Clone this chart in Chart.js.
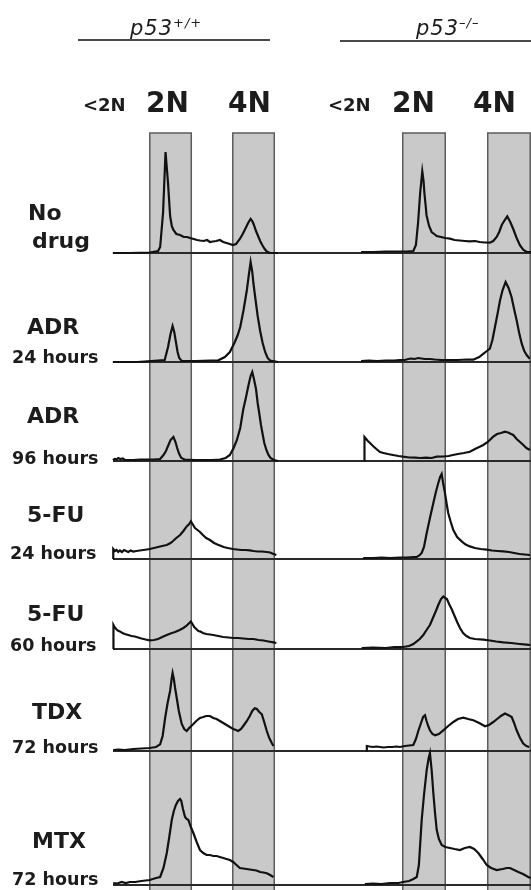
<!DOCTYPE html>
<html lang="en">
<head>
  <meta charset="UTF-8">
  <title>p53 cell cycle profiles</title>
  <script src="https://cdn.jsdelivr.net/npm/chart.js"></script>
  <style>
    body { margin: 0; background: #fff; font-family: "DejaVu Sans", sans-serif; color: #1c1c1c; }
    #wrap { position: relative; width: 531px; height: 890px; overflow: hidden; }
    canvas { position: absolute; left: 0; top: 0; }
    .t { position: absolute; line-height: 1; white-space: nowrap; font-weight: bold; }
    .big { font-size: 22px; }
    .hrs { font-size: 17.5px; }
    .ploidy { font-size: 28px; }
    .sub { font-size: 18px; }
    .head { position: absolute; line-height: 1; white-space: nowrap; font-style: italic; font-size: 21px; letter-spacing: 1px; }
    .head span { font-size: 13px; position: relative; top: -8px; letter-spacing: 1px; }
    .rule { position: absolute; height: 2px; background: #4a4a4a; }
  </style>
</head>
<body>
<div id="wrap">
  <canvas id="wt" width="531" height="890"></canvas>
  <canvas id="ko" width="531" height="890"></canvas>

  <div class="head" style="left:130px; top:18px;">p53<span>+/+</span></div>
  <div class="rule" style="left:78px; top:39px; width:192px;"></div>
  <div class="head" style="left:416px; top:18px;">p53<span>–/–</span></div>
  <div class="rule" style="left:340px; top:40px; width:191px;"></div>

  <div class="t sub" style="left:83px; top:96px;">&lt;2N</div>
  <div class="t ploidy" style="left:146px; top:89px;">2N</div>
  <div class="t ploidy" style="left:228px; top:89px;">4N</div>
  <div class="t sub" style="left:328px; top:96px;">&lt;2N</div>
  <div class="t ploidy" style="left:392px; top:89px;">2N</div>
  <div class="t ploidy" style="left:473px; top:89px;">4N</div>

  <div class="t big" style="left:28px; top:202px;">No</div>
  <div class="t big" style="left:32px; top:230px;">drug</div>
  <div class="t big" style="left:27px; top:316px;">ADR</div>
  <div class="t hrs" style="left:12px; top:349px;">24 hours</div>
  <div class="t big" style="left:27px; top:405px;">ADR</div>
  <div class="t hrs" style="left:12px; top:450px;">96 hours</div>
  <div class="t big" style="left:27px; top:504px;">5-FU</div>
  <div class="t hrs" style="left:10px; top:545px;">24 hours</div>
  <div class="t big" style="left:27px; top:603px;">5-FU</div>
  <div class="t hrs" style="left:10px; top:637px;">60 hours</div>
  <div class="t big" style="left:32px; top:701px;">TDX</div>
  <div class="t hrs" style="left:12px; top:739px;">72 hours</div>
  <div class="t big" style="left:32px; top:830px;">MTX</div>
  <div class="t hrs" style="left:12px; top:871px;">72 hours</div>
</div>
<script>
  // DNA content gates (channel units)
  const gateRanges = [[150, 250], [350, 450]];
  // y-axis maximum (relative cell counts) for each treatment row, top to bottom
  const rowMax = [120, 109, 99, 98, 90, 102, 134];

  // p53+/+ histograms: [DNA content, cell count]
  const noDrugWT = [[61,0],[100,0],[150,0.5],[170,2],[175,6],[182,40],[188,101],[194,70],[199,37],[203,27],[207,23],[214,19],[223,18],[232,16],[240,16],[247,15],[256,14],[264,13],[271,12.5],[280,12],[288,13],[295,11],[302,11.5],[310,12],[319,13],[327,11],[335,10],[343,9],[350,8],[358,9],[367,14],[374,19],[380,24],[387,30],[393,34],[397,32],[401,28],[406,22],[411,17],[416,12],[421,8],[427,4],[432,1.5],[440,0],[459,0]];
  const adr24WT = [[61,0],[120,0],[186,2],[194,15],[200,28],[205,36],[209,30],[213,20],[217,10],[221,4],[227,1],[260,1],[315,1.7],[331,5],[343,10],[355,20],[362,27],[368,35],[376,52],[384,72],[389,88],[393,100],[397,90],[400,78],[404,65],[410,46],[416,31],[422,19],[428,10],[434,4],[440,1.5],[459,0]];
  const adr96WT = [[61,1],[66,2],[70,1.5],[74,3],[79,2],[85,2.5],[90,1],[110,1],[127,1.5],[160,1.5],[175,2],[183,6],[189,10],[195,16],[200,21],[207,24],[212,19],[216,13],[221,7],[226,3],[234,1.5],[260,1],[300,1],[319,1.5],[333,3],[343,6],[352,13],[360,21],[368,33],[375,51],[382,64],[388,76],[393,85],[397,89],[401,82],[406,72],[410,58],[413,50],[418,36],[421,29],[426,18],[431,11],[436,6],[441,3],[449,1],[459,0]];
  const fu24WT = [[61.6,0],[62,10],[66,8],[70,9],[74,7],[78,8.5],[83,7],[88,9],[93,8],[98,7],[104,8.5],[110,7.5],[118,8],[126,8.5],[135,9],[143,9.5],[150,10],[160,11],[170,12],[180,13],[191,14],[200,16],[206,18],[214,21],[223,24],[231,28],[239,32.6],[245,35],[249,37.6],[253,35],[259,31],[265,29],[271,27],[278,24],[286,21],[295,19],[305,16],[313,14.5],[319,13.6],[328,12],[338,11],[350,10],[360,9.5],[370,9],[380,9],[391,8.6],[400,8],[410,7.5],[420,7.5],[432,7],[440,6.5],[448,5],[455,4]];
  const fu60WT = [[62,0],[62.5,24],[65,22],[69,20],[73,18.5],[78,17.6],[84,16],[90,15],[98,14],[106,13],[114,12.5],[122,11.5],[130,10.5],[140,9.5],[150,8.6],[160,9],[170,10],[180,12],[191,14],[200,15.5],[211,17],[222,19],[231,21],[238,23],[244,25.5],[249,27.6],[253,25],[257,22],[262,20],[267,18],[271,17.6],[278,16],[286,15],[295,14.5],[303,14],[315,13],[327,12],[340,11.5],[351,11],[363,11],[375,10.5],[388,10],[400,10],[412,9],[424,8.5],[436,7.5],[448,6.6],[455,6]];
  const tdxWT = [[62,1],[75,1.5],[90,1],[110,2],[130,2.5],[150,3],[165,4],[175,6.6],[181,15],[187,33],[193,48],[199,60],[203,73],[205,78],[208,72],[211,63],[215,53],[220,40],[227,27],[233,22],[239,20],[245,23],[250,25],[255,27],[262,30],[271,33],[279,34],[286,35],[295,35],[303,33],[311,32],[319,30],[327,28],[335,26],[343,24],[351,22],[358,21],[363,20],[370,22],[377,26],[384,30],[391,35],[397,40],[403,42.7],[408,42],[414,39],[420,36.7],[425,30],[432,20],[438,13],[444,8],[448,5]];
  const mtxWT = [[62,2],[72,1.5],[82,3],[92,2],[102,3],[115,3],[130,4],[150,5],[165,7],[175,8],[183,17],[191,32],[197,48],[203,65],[208,74],[213,80],[218,84],[223,86],[226,84],[230,76],[235,68],[239,66],[243,65],[249,58],[255,52],[263,43],[271,35],[279,32],[287,30],[295,30],[303,29],[311,29],[319,28],[327,27],[335,26],[343,25],[351,23],[359,20],[367,17],[375,16.5],[383,16],[391,15.5],[399,15],[407,14.5],[416,13],[424,12.5],[432,11.7],[440,10],[448,8]];

  // p53-/- histograms
  const noDrugKO = [[52,1],[80,1],[110,1.5],[143,1.5],[160,1.5],[175,2],[181,8],[186,30],[191,60],[196,81.6],[199,72],[201,60],[204,47],[206,37.6],[212,27],[218,21],[224,19],[230,17],[240,16],[250,15],[261,14.3],[272,13],[284,12.5],[296,12],[308,11.6],[320,12],[331,11],[343,10.5],[355,10.3],[363,12],[371,16],[377,21],[383,28],[390,33],[396,36.6],[403,31],[410,24],[418,15],[426,7.6],[434,3],[442,1],[452,1]];
  const adr24KO = [[52,1],[70,1.5],[90,1],[110,1.5],[130,1.5],[143,2],[155,2],[163,3],[170,3.5],[178,3],[186,4],[194,3.5],[202,3],[214,3],[225,2.5],[240,2],[261,2],[280,2],[300,2.5],[316,2.3],[330,5],[340,8.3],[348,11],[355,13.3],[361,22],[367,35],[373,48],[379,61.7],[385,72],[392,80],[399,74],[406,65],[412,53],[418,41.7],[424,29],[430,18.3],[436,11],[442,6.7],[449,3.3]];
  const adr96KO = [[59.5,0],[60,24],[64,22],[68,20],[73,18],[80,15],[88,12],[96.5,9],[105,8],[115,7],[127,6],[140,5],[150.6,4.3],[165,3.5],[180,3.3],[190.6,3],[205,3.3],[218,3],[230,4.3],[245,4.5],[258,5],[268,6],[280,7],[294,8],[308,9.3],[320,12],[330,14],[339.5,16],[350,19],[363,24.3],[372,27],[381,28],[390.6,29.3],[398,28.5],[405,27],[410,26],[418,22],[426,19],[433.7,16],[441,13],[449.4,11]];
  const fu24KO = [[57,1],[80,1],[100,1.5],[120,1],[143.5,1.5],[160,1.5],[175,2],[183,2],[189,3.5],[194.6,6],[200,12],[206.4,26],[214,41],[222,56],[228,67],[233.6,76],[238,82],[241.6,85],[245,76],[249.4,66],[253,56],[257,46],[263,37],[269,29],[278,22],[288.7,17.6],[298,14.5],[308,12.6],[320,11],[333,10],[347.5,9.3],[360,8.5],[373,8],[386.6,7.6],[400,7],[412,6],[425,5],[437,4.5],[449.4,4]];
  const fu60KO = [[53.4,1],[80,1.5],[110,1],[130,2],[151,2],[165,3],[175,5],[183,7.6],[190,10],[198.4,14],[206,19],[214,24],[222,32],[228,38],[233.6,44],[240,50],[245.4,52.6],[250,51],[254,50],[259,45],[265,40],[272,33],[278,27],[284.7,21],[292,16],[300,13],[308,11],[320,10],[339.5,9.3],[355,8.5],[370,7.5],[386.6,6.6],[405,6],[425,5],[441.7,4.3],[450,4]];
  const tdxKO = [[65,0],[65.5,5],[72,4.5],[80,4],[88,4.5],[96.5,4],[105,3.5],[115,4],[125,4],[135,4.5],[143.5,4],[155,5],[165,5.5],[174.8,6],[181,12],[186.6,20],[193,28],[198,34],[202.4,35.7],[206,30],[210,25],[214,20.7],[220,17],[226,15.7],[235,17],[245.4,20.7],[257,25],[269,29],[280,32],[292.5,33.4],[304,32],[316,30.7],[330,28],[343.5,24.7],[353,26],[363,29],[372,32],[381,35],[390.6,37.4],[398,36],[406.4,34],[412,28],[418,20.7],[426,13],[433.6,7.4],[441,5],[447.8,4]];
  const mtxKO = [[61,1],[80,1.5],[100,1],[120,2],[140,2],[151,3],[165,4],[175,6],[183,8],[188,20],[194.6,65],[200,90],[206.4,115],[211,127],[214,132],[218,115],[222,92],[226,72],[230,55],[235,46],[241.6,40],[250,38],[261,37],[272,36],[284.7,35],[296,37],[308,38],[318,36],[327.8,32],[338,26],[347.5,20],[358,17],[371,15],[385,16],[395,17],[402.4,17],[412,15],[422,13],[433,11],[445.4,8],[451,7]];

  const gatePlugin = {
    id: 'gates',
    beforeDatasetsDraw(chart) {
      const { ctx, chartArea, scales } = chart;
      ctx.save();
      gateRanges.forEach(([a, b]) => {
        const x0 = scales.x.getPixelForValue(a);
        const x1 = scales.x.getPixelForValue(b);
        ctx.fillStyle = '#c9c9c9';
        ctx.fillRect(x0, chartArea.top, x1 - x0, chart.height);
        ctx.strokeStyle = '#5c5c5c';
        ctx.lineWidth = 1.5;
        ctx.strokeRect(x0, chartArea.top, x1 - x0, chart.height);
      });
      // baseline of every row
      ctx.strokeStyle = '#2a2a2a';
      ctx.lineWidth = 1.8;
      rowMax.forEach((m, i) => {
        const y = scales['y' + i].getPixelForValue(0);
        ctx.beginPath();
        ctx.moveTo(scales.x.left, y);
        ctx.lineTo(scales.x.right, y);
        ctx.stroke();
      });
      ctx.restore();
    }
  };

  function makeChart(id, traces, xMin, xMax, pad) {
    const scales = { x: { type: 'linear', min: xMin, max: xMax, display: false } };
    rowMax.forEach((m, i) => {
      scales['y' + i] = {
        type: 'linear', position: 'left', stack: 'rows', stackWeight: m,
        weight: rowMax.length - i, min: 0, max: m, display: false
      };
    });
    const datasets = traces.map((t, i) => ({
      data: t.map(p => ({ x: p[0], y: p[1] })),
      xAxisID: 'x',
      yAxisID: 'y' + i,
      borderColor: '#111',
      borderWidth: 2.2,
      pointRadius: 0,
      fill: false,
      tension: 0,
      clip: false
    }));
    return new Chart(document.getElementById(id), {
      type: 'line',
      data: { datasets },
      options: {
        responsive: false,
        animation: false,
        layout: { padding: pad },
        plugins: { legend: { display: false }, tooltip: { enabled: false } },
        scales
      },
      plugins: [gatePlugin]
    });
  }

  makeChart('wt', [noDrugWT, adr24WT, adr96WT, fu24WT, fu60WT, tdxWT, mtxWT],
    61.4, 459, { left: 113, right: 253, top: 133, bottom: 5 });
  makeChart('ko', [noDrugKO, adr24KO, adr96KO, fu24KO, fu60KO, tdxKO, mtxKO],
    -143.5, 451.8, { left: 278, right: 0, top: 133, bottom: 5 });
</script>
</body>
</html>
